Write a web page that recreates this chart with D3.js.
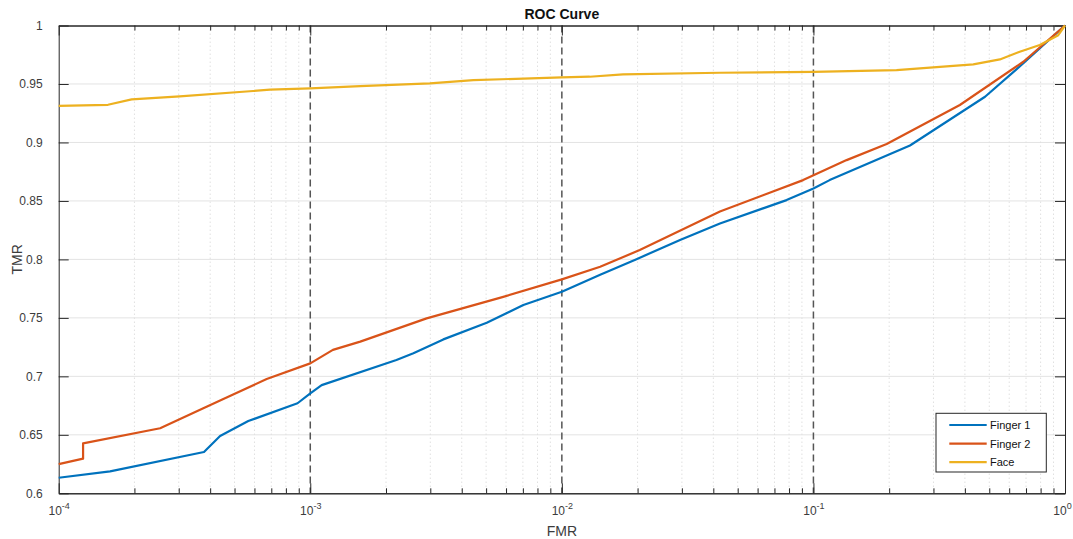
<!DOCTYPE html>
<html>
<head>
<meta charset="utf-8">
<script src="https://cdn.jsdelivr.net/npm/d3@7"></script>
<style>
  body { margin: 0; background: #fff; }
  svg { font-family: "Liberation Sans", Arial, sans-serif; }
</style>
</head>
<body>
<svg id="chart" width="1073" height="539"></svg>
<script>
// ROC curves, log FMR axis

// data
var finger1Fmr = [1e-4, 1.6e-4, 3.78e-4, 4.38e-4, 5.67e-4, 8.9e-4, 1e-3, 1.11e-3, 2.2e-3, 2.57e-3, 3.38e-3, 5.03e-3, 7.03e-3, 1e-2, 1.42e-2, 1.98e-2, 2.95e-2, 4.25e-2, 7.82e-2, 0.1, 0.116, 0.242, 0.481, 0.683, 1];
var finger1Tmr = [0.6133, 0.6188, 0.6353, 0.649, 0.6618, 0.677, 0.6855, 0.6925, 0.714, 0.7197, 0.7316, 0.7458, 0.761, 0.7724, 0.7868, 0.8002, 0.8165, 0.8307, 0.8507, 0.8606, 0.8678, 0.8974, 0.9391, 0.9677, 1];

var finger2Fmr = [1e-4, 1.25e-4, 1.25e-4, 2.53e-4, 3.87e-4, 4.65e-4, 6.71e-4, 1e-3, 1.23e-3, 1.58e-3, 2.9e-3, 5.85e-3, 1e-2, 1.42e-2, 2.04e-2, 4.25e-2, 9.1e-2, 0.1355, 0.1955, 0.382, 0.683, 1];
var finger2Tmr = [0.625, 0.6296, 0.6427, 0.6556, 0.674, 0.682, 0.6977, 0.7111, 0.7226, 0.7297, 0.7496, 0.768, 0.7829, 0.7937, 0.808, 0.8409, 0.8678, 0.8849, 0.8986, 0.932, 0.969, 1];

var faceFmr = [1e-4, 1.57e-4, 1.95e-4, 3.03e-4, 5.93e-4, 6.92e-4, 1e-3, 1.58e-3, 2.99e-3, 4.45e-3, 1e-2, 1.29e-2, 1.75e-2, 4.25e-2, 0.1, 0.214, 0.432, 0.551, 0.661, 0.794, 0.94, 1];
var faceTmr = [0.9312, 0.9322, 0.9368, 0.9394, 0.944, 0.9451, 0.9462, 0.9482, 0.9505, 0.9533, 0.9556, 0.9562, 0.9582, 0.9596, 0.9604, 0.9618, 0.9667, 0.971, 0.9776, 0.9833, 0.9917, 1];

var seriesNames = ["Finger 1", "Finger 2", "Face"];
var xDecades = [1e-4, 1e-3, 1e-2, 1e-1, 1];
var xExponents = ["-4", "-3", "-2", "-1", "0"];
var refLines = [1e-3, 1e-2, 1e-1];
var yTicks = [0.6, 0.65, 0.7, 0.75, 0.8, 0.85, 0.9, 0.95, 1];

var colors = ["#0072BD", "#D95319", "#EDB120"];

// layout
var width = 1073, height = 539;
var margin = { top: 25.5, right: 8, bottom: 45.7, left: 58.7 };
var x0 = margin.left, x1 = width - margin.right;
var y0 = margin.top, y1 = height - margin.bottom;

var svg = d3.select("#chart");

// scales
var x = d3.scaleLog().domain([1e-4, 1]).range([x0, x1]);
var y = d3.scaleLinear().domain([0.6, 1]).range([y1, y0]);

// minor decade ticks (2..9 per decade)
var minor = x.ticks().filter(function(v) { return xDecades.indexOf(v) < 0; });

// GRID
svg.append("g").selectAll("line.ygrid")
    .data(yTicks.slice(1, -1))
    .enter().append("line")
    .attr("x1", x0).attr("x2", x1)
    .attr("y1", d => y(d)).attr("y2", d => y(d))
    .style("stroke", "#e3e3e3").style("stroke-width", 1);

svg.append("g").selectAll("line.xgrid")
    .data(minor)
    .enter().append("line")
    .attr("x1", d => x(d)).attr("x2", d => x(d))
    .attr("y1", y0).attr("y2", y1)
    .style("stroke", "#e0e0e0").style("stroke-width", 1)
    .style("stroke-dasharray", "1.5,2.5");

// dashed reference lines at decades
svg.append("g").selectAll("line.ref")
    .data(refLines)
    .enter().append("line")
    .attr("x1", d => x(d)).attr("x2", d => x(d))
    .attr("y1", y0).attr("y2", y1)
    .style("stroke", "#555").style("stroke-width", 1.5)
    .style("stroke-dasharray", "7,4");

// AXES (MATLAB style box, ticks pointing inward)
function noLabels(a) { return a.tickFormat(""); }

var gB = svg.append("g").attr("transform", "translate(0," + y1 + ")")
    .call(noLabels(d3.axisBottom(x).tickValues(xDecades).tickSizeInner(-10).tickSizeOuter(0)));
svg.append("g").attr("transform", "translate(0," + y1 + ")")
    .call(noLabels(d3.axisBottom(x).tickValues(minor).tickSizeInner(-5).tickSizeOuter(0)));
svg.append("g").attr("transform", "translate(0," + y0 + ")")
    .call(noLabels(d3.axisTop(x).tickValues(xDecades).tickSizeInner(-10).tickSizeOuter(0)));
svg.append("g").attr("transform", "translate(0," + y0 + ")")
    .call(noLabels(d3.axisTop(x).tickValues(minor).tickSizeInner(-5).tickSizeOuter(0)));
var gL = svg.append("g").attr("transform", "translate(" + x0 + ",0)")
    .call(d3.axisLeft(y).tickValues(yTicks).tickSizeInner(-10).tickSizeOuter(0).tickPadding(16)
        .tickFormat(d => d3.format("")(+d.toFixed(2))));
svg.append("g").attr("transform", "translate(" + x1 + ",0)")
    .call(noLabels(d3.axisRight(y).tickValues(yTicks).tickSizeInner(-10).tickSizeOuter(0)));

svg.selectAll(".domain").style("stroke", "#262626").style("stroke-width", 1);
svg.selectAll(".tick line").style("stroke", "#262626").style("stroke-width", 1);

gL.selectAll("text")
    .style("font-family", "Liberation Sans, Arial, sans-serif")
    .style("font-size", "12px")
    .style("fill", "#3c3c3c");

// x tick labels with superscript exponents (last one nudged in so it stays on the page)
var xl = gB.selectAll(".tick").append("text")
    .attr("y", 21.7)
    .attr("x", (d, i) => i === xDecades.length - 1 ? -3 : 0)
    .attr("text-anchor", "middle")
    .style("font-family", "Liberation Sans, Arial, sans-serif")
    .style("font-size", "12px")
    .style("fill", "#3c3c3c");
xl.append("tspan").text("10");
xl.append("tspan")
    .attr("dy", -6)
    .style("font-size", "9px")
    .text((d, i) => xExponents[i]);

// CURVES
var line = d3.line().x(d => x(d[0])).y(d => y(d[1]));
var curves = [
    d3.zip(finger1Fmr, finger1Tmr),
    d3.zip(finger2Fmr, finger2Tmr),
    d3.zip(faceFmr, faceTmr)
];

svg.append("g").selectAll("path.curve")
    .data(curves)
    .enter().append("path")
    .attr("d", line)
    .style("fill", "none")
    .style("stroke", (d, i) => colors[i])
    .style("stroke-width", 2.2)
    .style("stroke-linejoin", "round");

// LABELS
svg.append("text")
    .attr("x", x(1e-2)).attr("y", 19)
    .attr("text-anchor", "middle")
    .style("font-size", "14px").style("font-weight", "bold")
    .style("fill", "#111")
    .text("ROC Curve");

svg.append("text")
    .attr("x", x(1e-2)).attr("y", 536)
    .attr("text-anchor", "middle")
    .style("font-size", "14px").style("fill", "#3c3c3c")
    .text("FMR");

svg.append("text")
    .attr("transform", "translate(21.5," + y(0.8) + ") rotate(-90)")
    .attr("text-anchor", "middle")
    .style("font-size", "14px").style("fill", "#3c3c3c")
    .text("TMR");

// LEGEND
var leg = svg.append("g").attr("transform", "translate(936,413.3)");
leg.append("rect")
    .attr("width", 110.3).attr("height", 58.7)
    .style("fill", "#fff").style("stroke", "#262626").style("stroke-width", 1);

var items = leg.selectAll("g.item")
    .data(seriesNames)
    .enter().append("g")
    .attr("transform", (d, i) => "translate(0," + (11.7 + i * 18.6) + ")");
items.append("line")
    .attr("x1", 13.3).attr("x2", 50.7)
    .style("stroke", (d, i) => colors[i]).style("stroke-width", 2.2);
items.append("text")
    .attr("x", 54).attr("y", 4)
    .style("font-size", "11px").style("fill", "#111")
    .text(d => d);
</script>
</body>
</html>
